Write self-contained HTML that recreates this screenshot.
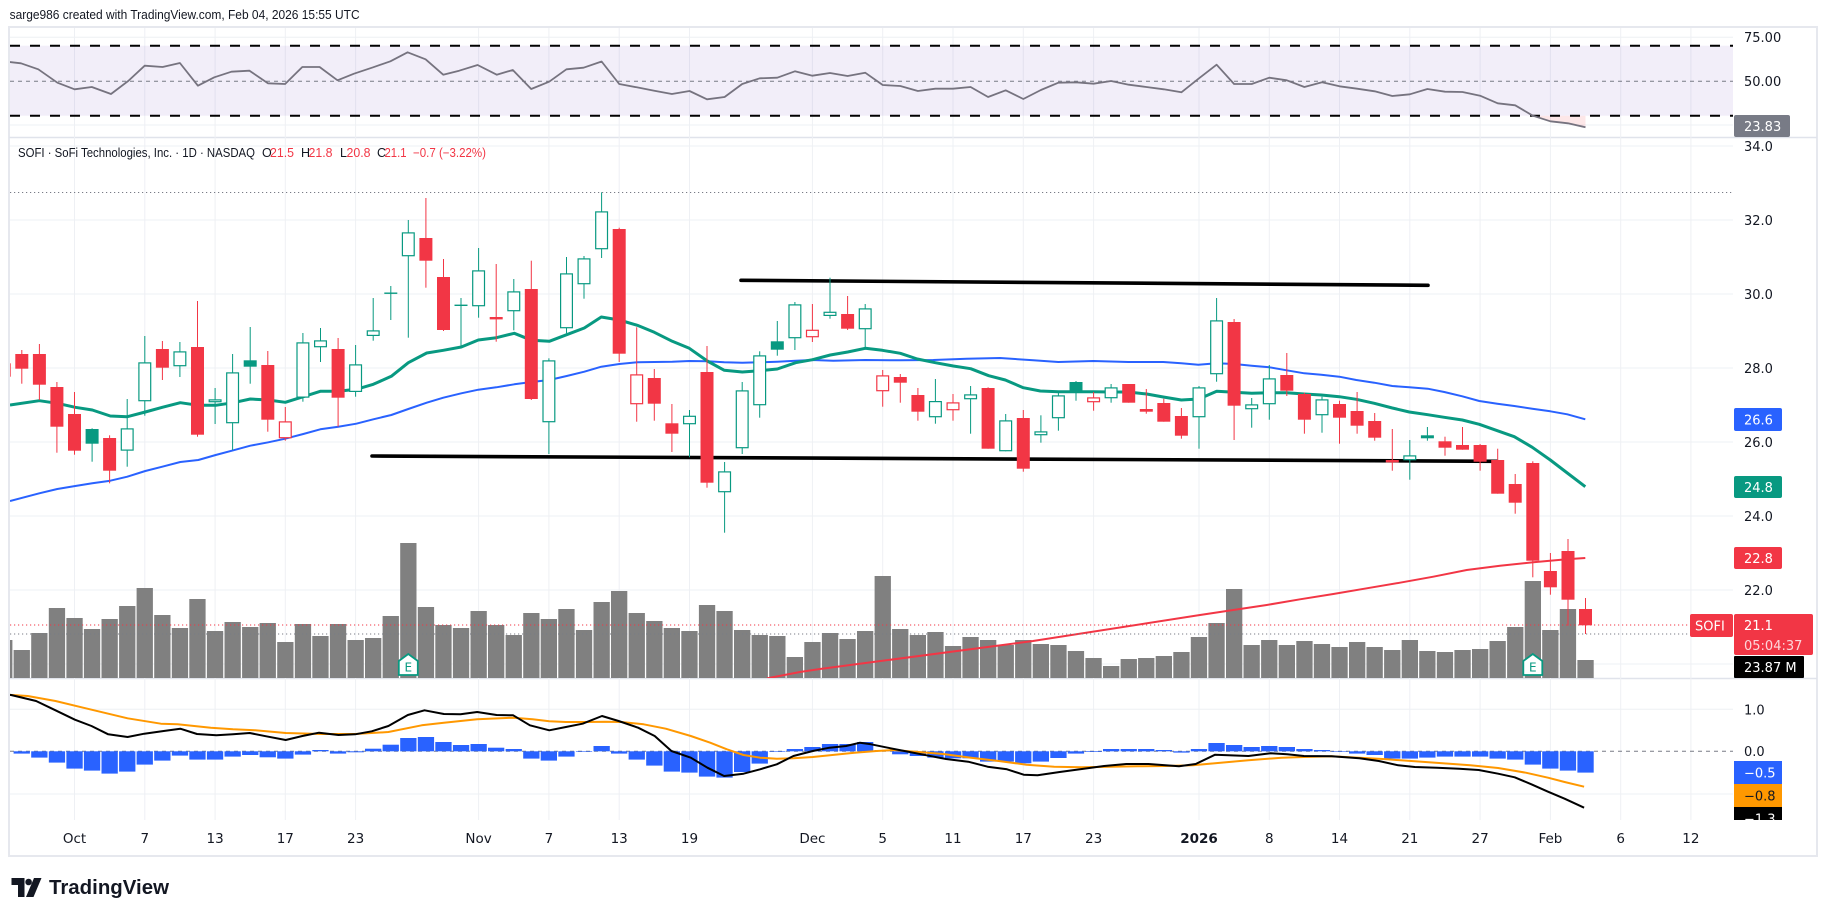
<!DOCTYPE html>
<html><head><meta charset="utf-8"><style>
html,body{margin:0;padding:0;background:#fff;width:1827px;height:916px;overflow:hidden}
svg{display:block}
.r{fill:#f23645}.g{fill:#089981}
.rh{fill:#fff;stroke:#f23645;stroke-width:1.2}
.gh{fill:#fff;stroke:#089981;stroke-width:1.2}
.v{fill:#808080}.hb{fill:#2962ff}
.ax{font-family:"DejaVu Sans",sans-serif;font-size:13px;fill:#131722}
.tx{font-family:"DejaVu Sans",sans-serif;font-size:13.5px;fill:#131722;text-anchor:middle}
.bl{font-family:"DejaVu Sans",sans-serif;font-size:13px;fill:#fff}
.gl{stroke:#eef0f4;stroke-width:1}
</style></head><body>
<svg width="1827" height="916" viewBox="0 0 1827 916" xmlns="http://www.w3.org/2000/svg">
<defs>
<clipPath id="cr"><rect x="10" y="28" width="1723" height="109"/></clipPath>
<clipPath id="cp"><rect x="10" y="138" width="1723" height="540"/></clipPath>
<clipPath id="cm"><rect x="10" y="679" width="1723" height="141"/></clipPath>
<clipPath id="cma"><rect x="1733" y="679" width="90" height="141"/></clipPath>
</defs>
<rect width="1827" height="916" fill="#fff"/>
<text x="9.6" y="19" font-family="Liberation Sans, sans-serif" font-size="12.5" fill="#131722" textLength="350" lengthAdjust="spacingAndGlyphs">sarge986 created with TradingView.com, Feb 04, 2026 15:55 UTC</text>

<!-- frame -->
<rect x="9" y="27" width="1808" height="829" fill="none" stroke="#e6e8ee" stroke-width="2"/>
<line x1="9" y1="137.5" x2="1817" y2="137.5" stroke="#e0e3eb" stroke-width="1.5"/>
<line x1="9" y1="678.5" x2="1817" y2="678.5" stroke="#e0e3eb" stroke-width="1.5"/>

<!-- vertical grid -->
<g class="gl">
<line x1="74.5" y1="28" x2="74.5" y2="820"/><line x1="144.8" y1="28" x2="144.8" y2="820"/><line x1="215.1" y1="28" x2="215.1" y2="820"/><line x1="285.3" y1="28" x2="285.3" y2="820"/><line x1="355.6" y1="28" x2="355.6" y2="820"/><line x1="478.6" y1="28" x2="478.6" y2="820"/><line x1="548.9" y1="28" x2="548.9" y2="820"/><line x1="619.2" y1="28" x2="619.2" y2="820"/><line x1="689.5" y1="28" x2="689.5" y2="820"/><line x1="812.4" y1="28" x2="812.4" y2="820"/><line x1="882.7" y1="28" x2="882.7" y2="820"/><line x1="953" y1="28" x2="953" y2="820"/><line x1="1023.3" y1="28" x2="1023.3" y2="820"/><line x1="1093.6" y1="28" x2="1093.6" y2="820"/><line x1="1199" y1="28" x2="1199" y2="820"/><line x1="1269.3" y1="28" x2="1269.3" y2="820"/><line x1="1339.5" y1="28" x2="1339.5" y2="820"/><line x1="1409.8" y1="28" x2="1409.8" y2="820"/><line x1="1480.1" y1="28" x2="1480.1" y2="820"/><line x1="1550.4" y1="28" x2="1550.4" y2="820"/><line x1="1620.7" y1="28" x2="1620.7" y2="820"/><line x1="1690.9" y1="28" x2="1690.9" y2="820"/>
<!-- horizontal grid -->
<line x1="10" y1="37.3" x2="1733" y2="37.3"/><line x1="10" y1="125" x2="1733" y2="125"/>
<line x1="10" y1="146" x2="1733" y2="146"/><line x1="10" y1="220" x2="1733" y2="220"/><line x1="10" y1="294" x2="1733" y2="294"/><line x1="10" y1="368" x2="1733" y2="368"/><line x1="10" y1="442" x2="1733" y2="442"/><line x1="10" y1="516" x2="1733" y2="516"/><line x1="10" y1="590" x2="1733" y2="590"/><line x1="10" y1="664" x2="1733" y2="664"/>
<line x1="10" y1="709.3" x2="1733" y2="709.3"/><line x1="10" y1="794" x2="1733" y2="794"/>
</g>

<!-- RSI pane -->
<g clip-path="url(#cr)">
<rect x="10" y="45.7" width="1723" height="70" fill="rgba(126,87,194,0.1)"/>
<polygon points="1532.8,115.7 1550.4,121.3 1568,123.3 1585.5,127.3 1585.5,115.7" fill="rgba(242,54,69,0.12)"/>
<line x1="10" y1="45.7" x2="1733" y2="45.7" stroke="#000" stroke-width="2" stroke-dasharray="10 10"/>
<line x1="10" y1="115.7" x2="1733" y2="115.7" stroke="#000" stroke-width="2" stroke-dasharray="10 10"/>
<line x1="10" y1="81.3" x2="1733" y2="81.3" stroke="#787b86" stroke-width="1" stroke-dasharray="4 4"/>
<polyline fill="none" stroke="#76737f" stroke-width="1.8" stroke-linejoin="round" points="9.6,62 21,63.3 38.3,69.3 57.4,82.7 74.6,89.3 91.8,87 111,94 128.2,81 144.7,65.7 162.6,67 179.9,63 197.9,85.7 214.3,77.3 231.5,71.7 249.5,70.7 267.9,83.3 285.1,84 302.3,67 319.6,67 337.5,80.3 354,73.7 373.1,67.3 390.4,61.3 407.6,52.3 425.6,59.3 443.2,74.7 459.2,70.7 477.6,65 496.7,74.7 512.8,70 531.2,89 549.2,81.7 566.4,69.3 583.6,67.7 601.6,61.5 619.2,84 636.7,87.3 654.3,90.7 671.9,94 689.5,91 707,99.3 724.6,97 742.2,84 759.7,78.3 777.3,77.7 794.9,71.3 812.4,75.7 830,73 847.6,76 865.2,72.7 882.7,85 900.3,86 917.9,91 935.4,88.7 953,88.7 970.6,87 988.1,97 1005.7,90.3 1023.3,99 1040.9,90 1058.4,82.7 1076,82.3 1093.6,83.7 1111.1,81 1128.7,84.7 1146.3,87 1163.8,89.3 1181.4,92.3 1199,78.3 1216.6,64.7 1234.1,84 1251.7,84 1269.3,77.7 1286.8,80.3 1304.4,87 1322,82.3 1339.5,86.3 1357.1,88.7 1374.7,91.3 1392.3,96 1409.8,94.3 1427.4,89 1445,91.7 1462.5,92 1480.1,95.7 1497.7,103.3 1515.2,105.3 1532.8,115.7 1550.4,121.3 1568,123.3 1585.5,127.3"/>
</g>

<!-- PRICE pane -->
<g clip-path="url(#cp)">
<!-- volume -->
<g class="v">
<rect x="-3.9" y="640" width="16.3" height="38"/><rect x="13.6" y="650" width="16.3" height="28"/><rect x="31.2" y="633" width="16.3" height="45"/><rect x="48.8" y="608" width="16.3" height="70"/><rect x="66.4" y="618" width="16.3" height="60"/><rect x="83.9" y="629" width="16.3" height="49"/><rect x="101.5" y="619" width="16.3" height="59"/><rect x="119.1" y="606" width="16.3" height="72"/><rect x="136.6" y="588" width="16.3" height="90"/><rect x="154.2" y="615" width="16.3" height="63"/><rect x="171.8" y="628" width="16.3" height="50"/><rect x="189.3" y="599" width="16.3" height="79"/><rect x="206.9" y="631" width="16.3" height="47"/><rect x="224.5" y="622" width="16.3" height="56"/><rect x="242.1" y="627" width="16.3" height="51"/><rect x="259.6" y="623" width="16.3" height="55"/><rect x="277.2" y="642" width="16.3" height="36"/><rect x="294.8" y="624" width="16.3" height="54"/><rect x="312.3" y="636" width="16.3" height="42"/><rect x="329.9" y="624" width="16.3" height="54"/><rect x="347.5" y="640" width="16.3" height="38"/><rect x="365" y="638" width="16.3" height="40"/><rect x="382.6" y="616" width="16.3" height="62"/><rect x="400.2" y="543" width="16.3" height="135"/><rect x="417.8" y="607" width="16.3" height="71"/><rect x="435.3" y="625" width="16.3" height="53"/><rect x="452.9" y="628" width="16.3" height="50"/><rect x="470.5" y="611" width="16.3" height="67"/><rect x="488" y="625" width="16.3" height="53"/><rect x="505.6" y="635" width="16.3" height="43"/><rect x="523.2" y="613" width="16.3" height="65"/><rect x="540.7" y="619" width="16.3" height="59"/><rect x="558.3" y="609" width="16.3" height="69"/><rect x="575.9" y="630" width="16.3" height="48"/><rect x="593.5" y="602" width="16.3" height="76"/><rect x="611" y="591" width="16.3" height="87"/><rect x="628.6" y="613" width="16.3" height="65"/><rect x="646.2" y="621" width="16.3" height="57"/><rect x="663.7" y="628" width="16.3" height="50"/><rect x="681.3" y="631" width="16.3" height="47"/><rect x="698.9" y="605" width="16.3" height="73"/><rect x="716.4" y="611" width="16.3" height="67"/><rect x="734" y="630" width="16.3" height="48"/><rect x="751.6" y="635" width="16.3" height="43"/><rect x="769.2" y="636" width="16.3" height="42"/><rect x="786.7" y="657" width="16.3" height="21"/><rect x="804.3" y="642" width="16.3" height="36"/><rect x="821.9" y="633" width="16.3" height="45"/><rect x="839.4" y="639" width="16.3" height="39"/><rect x="857" y="631" width="16.3" height="47"/><rect x="874.6" y="576" width="16.3" height="102"/><rect x="892.1" y="629" width="16.3" height="49"/><rect x="909.7" y="635" width="16.3" height="43"/><rect x="927.3" y="632" width="16.3" height="46"/><rect x="944.9" y="646" width="16.3" height="32"/><rect x="962.4" y="637" width="16.3" height="41"/><rect x="980" y="640" width="16.3" height="38"/><rect x="997.6" y="645" width="16.3" height="33"/><rect x="1015.1" y="640" width="16.3" height="38"/><rect x="1032.7" y="644" width="16.3" height="34"/><rect x="1050.3" y="645" width="16.3" height="33"/><rect x="1067.8" y="651" width="16.3" height="27"/><rect x="1085.4" y="658" width="16.3" height="20"/><rect x="1103" y="666" width="16.3" height="12"/><rect x="1120.6" y="659" width="16.3" height="19"/><rect x="1138.1" y="658" width="16.3" height="20"/><rect x="1155.7" y="656" width="16.3" height="22"/><rect x="1173.3" y="652" width="16.3" height="26"/><rect x="1190.8" y="637" width="16.3" height="41"/><rect x="1208.4" y="623" width="16.3" height="55"/><rect x="1226" y="589" width="16.3" height="89"/><rect x="1243.5" y="645" width="16.3" height="33"/><rect x="1261.1" y="640" width="16.3" height="38"/><rect x="1278.7" y="645" width="16.3" height="33"/><rect x="1296.3" y="641" width="16.3" height="37"/><rect x="1313.8" y="644" width="16.3" height="34"/><rect x="1331.4" y="647" width="16.3" height="31"/><rect x="1349" y="642" width="16.3" height="36"/><rect x="1366.5" y="647" width="16.3" height="31"/><rect x="1384.1" y="650" width="16.3" height="28"/><rect x="1401.7" y="640" width="16.3" height="38"/><rect x="1419.2" y="651" width="16.3" height="27"/><rect x="1436.8" y="652" width="16.3" height="26"/><rect x="1454.4" y="650" width="16.3" height="28"/><rect x="1472" y="649" width="16.3" height="29"/><rect x="1489.5" y="641" width="16.3" height="37"/><rect x="1507.1" y="627" width="16.3" height="51"/><rect x="1524.7" y="581" width="16.3" height="97"/><rect x="1542.2" y="630" width="16.3" height="48"/><rect x="1559.8" y="609" width="16.3" height="69"/><rect x="1577.4" y="660" width="16.3" height="18"/>
</g>

<!-- MAs -->
<polyline fill="none" stroke="#f23645" stroke-width="2" points="767,678.3 800,672 820,669 1033,641 1200,615 1233.3,610 1266.7,605 1300,599.3 1333.3,594 1366.7,588.3 1400,582.7 1433.3,576.7 1466.7,570 1500,565.7 1533.3,562.3 1566.7,559.3 1585.3,558"/>
<polyline fill="none" stroke="#2962ff" stroke-width="2" stroke-linejoin="round" points="10,501 39.3,493.3 57.3,489 75.3,486 92.3,483.3 110.3,480.7 127.3,476.7 145.3,471 162.3,466.7 180.3,462 198.3,460 215.7,455 233.3,450.3 250.3,445.7 268.3,442.3 285.3,438.7 303.3,434 320.3,429.3 338.3,426.7 356.3,423.7 373.3,419.3 391.3,415 408.3,409 426.7,402.7 443.3,397.7 461.3,393.3 478.3,389.7 496.3,387.3 514.3,384.3 531.7,382 549.3,380 566.7,376 584.3,371.7 601.3,366.7 619.3,364 637.3,362.3 654.3,362 672.3,361.7 689.3,361 707.3,361.3 724.3,362.3 742.3,362.7 759.3,362.3 777.3,361.7 795.7,360.7 812.3,360 833.3,360.7 865.3,360 900,360.3 933.3,360 966.7,358.7 1000,358 1033.3,360.3 1058.3,362 1093.3,361 1128.3,362 1163.3,362 1181.3,363.3 1198.3,364.7 1216.7,363.3 1234.3,364 1251.7,365.7 1269.3,367.3 1286.7,370.3 1304.3,373.3 1321.3,374.7 1339.3,376.7 1356.3,380 1374.3,382.7 1392.3,386 1409.3,387.3 1427.7,388.7 1444.3,392 1462.3,396.3 1479.3,401 1497.3,403.7 1514.3,406 1532.3,408.7 1550.3,411.3 1567.3,414.3 1585.3,419.3"/>
<polyline fill="none" stroke="#089981" stroke-width="3" stroke-linejoin="round" points="10,405 39.3,400.7 57.3,403.3 75.3,407.3 92.3,410 110.3,416 127.3,416.7 145.3,412 162.3,407.3 180.3,402.7 198.3,405.3 215.7,405.3 233.3,402.7 250.3,399 268.3,400 285.3,402.3 303.3,396.7 320.3,391.3 338.3,391.3 356.3,389.3 373.3,384.3 391.3,376.3 408.3,362.7 426.7,353 443.3,350.3 461.3,347 478.3,340 496.3,337.7 514.3,333.3 531.7,340.3 549.3,341.3 566.7,334.7 584.3,328 601.3,317 619.3,320 637.3,325.3 654.3,332.3 672.3,341.3 689.3,348.3 707.3,361 724.3,370.3 742.3,372 759.3,370.7 777.3,369 795.7,362.7 812.5,359.7 830.3,355 847.7,352 865.3,348.3 882.3,350.3 900.3,353.3 917.3,359 935.3,362.7 953.3,366 970.7,368.7 988.7,375.7 1005.3,380 1023.3,387.7 1040.3,391 1058.3,391.7 1076.3,391.7 1093.3,391.7 1111.3,392 1128.3,392 1146.7,394 1163.3,397 1181.3,400 1198.8,399 1216.7,391.3 1234.3,392.3 1251.7,393.3 1269.3,392.7 1286.7,392.7 1304.3,394 1321.3,395 1339.3,396.7 1356.3,399.3 1374.3,403.3 1392.3,408 1409.3,412 1427.7,414.7 1444.3,417.3 1462.3,420 1479.3,424.3 1497.3,430.7 1514.3,436.7 1532.3,447.3 1550.3,460 1567.3,473 1585.3,486.7"/>

<!-- trend lines -->
<line x1="741" y1="280.3" x2="1428" y2="285.3" stroke="#000" stroke-width="3.6" stroke-linecap="round"/>
<line x1="372" y1="456" x2="1497" y2="461.3" stroke="#000" stroke-width="3.6" stroke-linecap="round"/>

<!-- candles -->
<rect class="r" x="3.7" y="360" width="1" height="20"/><rect class="r" x="-2.3" y="363.3" width="13" height="13.4"/>
<rect class="r" x="21.3" y="350" width="1" height="33.7"/><rect class="r" x="15.3" y="354" width="13" height="14.7"/>
<rect class="r" x="38.9" y="344" width="1" height="56"/><rect class="r" x="32.9" y="354" width="13" height="30.7"/>
<rect class="r" x="56.4" y="382" width="1" height="70.7"/><rect class="r" x="50.4" y="387" width="13" height="39.7"/>
<rect class="r" x="74" y="392" width="1" height="62.7"/><rect class="r" x="68" y="414" width="13" height="36.7"/>
<rect class="g" x="91.6" y="428.3" width="1" height="33.4"/><rect class="g" x="85.6" y="429" width="13" height="14.7"/>
<rect class="r" x="109.1" y="435.3" width="1" height="48"/><rect class="r" x="103.1" y="438" width="13" height="32.7"/>
<rect class="g" x="126.7" y="399" width="1" height="67.7"/><rect class="gh" x="121.3" y="428.9" width="11.8" height="21.2"/>
<rect class="g" x="144.3" y="336" width="1" height="79.7"/><rect class="gh" x="138.9" y="362.9" width="11.8" height="37.8"/>
<rect class="r" x="161.9" y="341" width="1" height="39"/><rect class="r" x="155.9" y="349" width="13" height="18.7"/>
<rect class="g" x="179.4" y="342" width="1" height="35"/><rect class="gh" x="174" y="351.9" width="11.8" height="13.8"/>
<rect class="r" x="197" y="301" width="1" height="135.7"/><rect class="r" x="191" y="347" width="13" height="87.7"/>
<rect class="g" x="214.6" y="388" width="1" height="36"/><rect class="gh" x="209.2" y="399.9" width="11.8" height="1.8"/>
<rect class="g" x="232.1" y="354" width="1" height="96"/><rect class="gh" x="226.7" y="372.9" width="11.8" height="49.8"/>
<rect class="g" x="249.7" y="327" width="1" height="56.7"/><rect class="g" x="243.7" y="360.3" width="13" height="6.4"/>
<rect class="r" x="267.3" y="351" width="1" height="80.7"/><rect class="r" x="261.3" y="365" width="13" height="54.7"/>
<rect class="r" x="284.8" y="407" width="1" height="33.7"/><rect class="rh" x="279.4" y="421.9" width="11.8" height="15.8"/>
<rect class="g" x="302.4" y="333" width="1" height="68.7"/><rect class="gh" x="297" y="342.9" width="11.8" height="54.2"/>
<rect class="g" x="320" y="328" width="1" height="34"/><rect class="gh" x="314.6" y="340.9" width="11.8" height="5.8"/>
<rect class="r" x="337.6" y="338" width="1" height="88.7"/><rect class="r" x="331.6" y="349" width="13" height="48.7"/>
<rect class="g" x="355.1" y="345" width="1" height="51.7"/><rect class="gh" x="349.7" y="364.9" width="11.8" height="26.5"/>
<rect class="g" x="372.7" y="298" width="1" height="42.7"/><rect class="gh" x="367.3" y="330.9" width="11.8" height="4.5"/>
<rect class="g" x="390.3" y="286" width="1" height="34"/><rect class="g" x="384.3" y="292.5" width="13" height="1.4"/>
<rect class="g" x="407.8" y="220" width="1" height="117.7"/><rect class="gh" x="402.4" y="232.9" width="11.8" height="22.8"/>
<rect class="r" x="425.4" y="198" width="1" height="89.7"/><rect class="r" x="419.4" y="238" width="13" height="22.7"/>
<rect class="r" x="443" y="259" width="1" height="72"/><rect class="r" x="437" y="277" width="13" height="53"/>
<rect class="g" x="460.5" y="298" width="1" height="48.7"/><rect class="g" x="454.5" y="304.6" width="13" height="1.4"/>
<rect class="g" x="478.1" y="248" width="1" height="69.7"/><rect class="gh" x="472.7" y="270.9" width="11.8" height="34.8"/>
<rect class="r" x="495.7" y="264" width="1" height="77.7"/><rect class="rh" x="490.3" y="317.6" width="11.8" height="1.2"/>
<rect class="g" x="513.3" y="279" width="1" height="51.3"/><rect class="gh" x="507.9" y="291.9" width="11.8" height="18.8"/>
<rect class="r" x="530.8" y="260.7" width="1" height="139.3"/><rect class="r" x="524.8" y="289" width="13" height="110"/>
<rect class="g" x="548.4" y="358.3" width="1" height="95.7"/><rect class="gh" x="543" y="360.9" width="11.8" height="60.8"/>
<rect class="g" x="566" y="257" width="1" height="76.3"/><rect class="gh" x="560.6" y="273.9" width="11.8" height="53.8"/>
<rect class="g" x="583.5" y="256" width="1" height="42.7"/><rect class="gh" x="578.1" y="258.9" width="11.8" height="24.8"/>
<rect class="g" x="601.1" y="192.3" width="1" height="65.7"/><rect class="gh" x="595.7" y="211.9" width="11.8" height="36.8"/>
<rect class="r" x="618.7" y="227.7" width="1" height="134.3"/><rect class="r" x="612.7" y="229" width="13" height="124.7"/>
<rect class="r" x="636.2" y="327.3" width="1" height="94.4"/><rect class="rh" x="630.8" y="374.9" width="11.8" height="28.8"/>
<rect class="r" x="653.8" y="369" width="1" height="51.7"/><rect class="r" x="647.8" y="378" width="13" height="25.7"/>
<rect class="r" x="671.4" y="404" width="1" height="48"/><rect class="r" x="665.4" y="423.3" width="13" height="10.4"/>
<rect class="g" x="689" y="410" width="1" height="47.3"/><rect class="gh" x="683.6" y="416.3" width="11.8" height="7.4"/>
<rect class="r" x="706.5" y="346" width="1" height="141.7"/><rect class="r" x="700.5" y="372" width="13" height="110.7"/>
<rect class="g" x="724.1" y="462" width="1" height="70.7"/><rect class="gh" x="718.7" y="471.9" width="11.8" height="19.8"/>
<rect class="g" x="741.7" y="382" width="1" height="72"/><rect class="gh" x="736.3" y="390.9" width="11.8" height="56.8"/>
<rect class="g" x="759.2" y="351.3" width="1" height="66.4"/><rect class="gh" x="753.8" y="355.9" width="11.8" height="48.8"/>
<rect class="g" x="776.8" y="321" width="1" height="34.7"/><rect class="g" x="770.8" y="341.3" width="13" height="8.4"/>
<rect class="g" x="794.4" y="302" width="1" height="48"/><rect class="gh" x="789" y="304.9" width="11.8" height="32.8"/>
<rect class="r" x="811.9" y="304" width="1" height="38"/><rect class="rh" x="806.5" y="330.3" width="11.8" height="6.4"/>
<rect class="g" x="829.5" y="277.7" width="1" height="41"/><rect class="gh" x="824.1" y="312.3" width="11.8" height="3.1"/>
<rect class="r" x="847.1" y="296" width="1" height="34"/><rect class="r" x="841.1" y="314" width="13" height="14.7"/>
<rect class="g" x="864.7" y="304" width="1" height="43.3"/><rect class="gh" x="859.3" y="308.9" width="11.8" height="19.8"/>
<rect class="r" x="882.2" y="370" width="1" height="36.7"/><rect class="rh" x="876.8" y="375.9" width="11.8" height="14.8"/>
<rect class="r" x="899.8" y="374" width="1" height="28.7"/><rect class="r" x="893.8" y="377" width="13" height="5.7"/>
<rect class="r" x="917.4" y="388" width="1" height="32.7"/><rect class="r" x="911.4" y="395" width="13" height="16.7"/>
<rect class="g" x="934.9" y="379" width="1" height="44.7"/><rect class="gh" x="929.5" y="401.6" width="11.8" height="15.1"/>
<rect class="r" x="952.5" y="394" width="1" height="26.7"/><rect class="rh" x="947.1" y="402.9" width="11.8" height="6.8"/>
<rect class="g" x="970.1" y="386" width="1" height="47.7"/><rect class="gh" x="964.7" y="394.9" width="11.8" height="3.8"/>
<rect class="r" x="987.6" y="387.3" width="1" height="61.4"/><rect class="r" x="981.6" y="388" width="13" height="60.7"/>
<rect class="g" x="1005.2" y="414" width="1" height="37.3"/><rect class="gh" x="999.8" y="420.9" width="11.8" height="29.8"/>
<rect class="r" x="1022.8" y="410" width="1" height="61.7"/><rect class="r" x="1016.8" y="418" width="13" height="50.7"/>
<rect class="g" x="1040.4" y="415.3" width="1" height="27.4"/><rect class="gh" x="1035" y="431.9" width="11.8" height="2.8"/>
<rect class="g" x="1057.9" y="392.7" width="1" height="38"/><rect class="gh" x="1052.5" y="395.9" width="11.8" height="21.8"/>
<rect class="g" x="1075.5" y="381" width="1" height="19.7"/><rect class="g" x="1069.5" y="382" width="13" height="9.7"/>
<rect class="r" x="1093.1" y="392" width="1" height="18.7"/><rect class="rh" x="1087.7" y="397.9" width="11.8" height="3.8"/>
<rect class="g" x="1110.6" y="384" width="1" height="18.7"/><rect class="gh" x="1105.2" y="387.9" width="11.8" height="9.8"/>
<rect class="r" x="1128.2" y="384" width="1" height="18.7"/><rect class="r" x="1122.2" y="384" width="13" height="18.7"/>
<rect class="r" x="1145.8" y="389" width="1" height="24.7"/><rect class="r" x="1139.8" y="409" width="13" height="2.7"/>
<rect class="r" x="1163.3" y="398.7" width="1" height="23"/><rect class="r" x="1157.3" y="403" width="13" height="18.7"/>
<rect class="r" x="1180.9" y="408" width="1" height="30.7"/><rect class="r" x="1174.9" y="416" width="13" height="19.7"/>
<rect class="g" x="1198.5" y="386" width="1" height="62.7"/><rect class="gh" x="1193.1" y="387.9" width="11.8" height="28.8"/>
<rect class="g" x="1216.1" y="298" width="1" height="83.7"/><rect class="gh" x="1210.7" y="320.9" width="11.8" height="52.8"/>
<rect class="r" x="1233.6" y="319" width="1" height="121"/><rect class="r" x="1227.6" y="322" width="13" height="83.7"/>
<rect class="g" x="1251.2" y="398" width="1" height="29.7"/><rect class="gh" x="1245.8" y="404.9" width="11.8" height="3.8"/>
<rect class="g" x="1268.8" y="365" width="1" height="54.7"/><rect class="gh" x="1263.4" y="378.9" width="11.8" height="24.8"/>
<rect class="r" x="1286.3" y="353" width="1" height="43"/><rect class="r" x="1280.3" y="375" width="13" height="15.7"/>
<rect class="r" x="1303.9" y="392.7" width="1" height="41"/><rect class="r" x="1297.9" y="394" width="13" height="25.7"/>
<rect class="g" x="1321.5" y="396.7" width="1" height="36"/><rect class="gh" x="1316.1" y="399.9" width="11.8" height="14.8"/>
<rect class="r" x="1339" y="400.7" width="1" height="43"/><rect class="r" x="1333" y="404" width="13" height="13.7"/>
<rect class="r" x="1356.6" y="392" width="1" height="41.7"/><rect class="r" x="1350.6" y="411" width="13" height="14.7"/>
<rect class="r" x="1374.2" y="413" width="1" height="27.7"/><rect class="r" x="1368.2" y="421" width="13" height="16.7"/>
<rect class="r" x="1391.8" y="429" width="1" height="41.7"/><rect class="rh" x="1386.4" y="460.6" width="11.8" height="1.2"/>
<rect class="g" x="1409.3" y="440" width="1" height="39.7"/><rect class="gh" x="1403.9" y="455.9" width="11.8" height="3.8"/>
<rect class="g" x="1426.9" y="427" width="1" height="13.7"/><rect class="g" x="1420.9" y="435.3" width="13" height="3"/>
<rect class="r" x="1444.5" y="436.7" width="1" height="19"/><rect class="r" x="1438.5" y="441.3" width="13" height="6.4"/>
<rect class="r" x="1462" y="427" width="1" height="22.7"/><rect class="r" x="1456" y="445" width="13" height="4.7"/>
<rect class="r" x="1479.6" y="444" width="1" height="26.7"/><rect class="r" x="1473.6" y="445" width="13" height="16.7"/>
<rect class="r" x="1497.2" y="448.7" width="1" height="45"/><rect class="r" x="1491.2" y="460" width="13" height="33.7"/>
<rect class="r" x="1514.7" y="474" width="1" height="39.7"/><rect class="r" x="1508.7" y="484" width="13" height="18.7"/>
<rect class="r" x="1532.3" y="461.3" width="1" height="116"/><rect class="r" x="1526.3" y="463" width="13" height="97.7"/>
<rect class="r" x="1549.9" y="553" width="1" height="41.7"/><rect class="r" x="1543.9" y="571" width="13" height="16.3"/>
<rect class="r" x="1567.5" y="539" width="1" height="86.7"/><rect class="r" x="1561.5" y="551" width="13" height="48.7"/>
<rect class="r" x="1585" y="598" width="1" height="36"/><rect class="r" x="1579" y="609" width="13" height="16.3"/>

<!-- dotted lines -->
<line x1="10" y1="192.5" x2="1733" y2="192.5" stroke="#787b86" stroke-width="1" stroke-dasharray="1.2 2.8"/>
<line x1="10" y1="625" x2="1690" y2="625" stroke="#f23645" stroke-width="1" stroke-dasharray="1.2 2.8"/>
<line x1="10" y1="634" x2="1690" y2="634" stroke="#787b86" stroke-width="1" stroke-dasharray="1.2 2.8"/>

<!-- earnings markers -->
<polygon points="398.8,661 408.3,654 417.8,661 417.8,675 398.8,675" fill="#fff" stroke="#089981" stroke-width="1.8"/>
<text x="408.3" y="671.5" text-anchor="middle" font-family="DejaVu Sans, sans-serif" font-size="12" fill="#089981">E</text>
<polygon points="1523.3,661 1532.8,654 1542.3,661 1542.3,675 1523.3,675" fill="#fff" stroke="#089981" stroke-width="1.8"/>
<text x="1532.8" y="671.5" text-anchor="middle" font-family="DejaVu Sans, sans-serif" font-size="12" fill="#089981">E</text>
</g>

<!-- legend -->
<g font-family="Liberation Sans, sans-serif" font-size="12.5">
<text x="18" y="157" fill="#131722" textLength="237" lengthAdjust="spacingAndGlyphs">SOFI · SoFi Technologies, Inc. · 1D · NASDAQ</text>
<text x="262" y="157" fill="#131722">O</text><text x="270" y="157" fill="#f23645" textLength="24" lengthAdjust="spacingAndGlyphs">21.5</text>
<text x="301" y="157" fill="#131722">H</text><text x="308.5" y="157" fill="#f23645" textLength="24" lengthAdjust="spacingAndGlyphs">21.8</text>
<text x="340" y="157" fill="#131722">L</text><text x="346.5" y="157" fill="#f23645" textLength="24" lengthAdjust="spacingAndGlyphs">20.8</text>
<text x="377" y="157" fill="#131722">C</text><text x="384.5" y="157" fill="#f23645" textLength="22" lengthAdjust="spacingAndGlyphs">21.1</text>
<text x="413" y="157" fill="#f23645" textLength="73" lengthAdjust="spacingAndGlyphs">−0.7 (−3.22%)</text>
</g>

<!-- MACD pane -->
<g clip-path="url(#cm)">
<line x1="10" y1="751.3" x2="1733" y2="751.3" stroke="#787b86" stroke-width="1" stroke-dasharray="4 4"/>
<g class="hb">
<rect x="13.6" y="751.3" width="16.3" height="2.3"/><rect x="31.2" y="751.3" width="16.3" height="6.3"/><rect x="48.8" y="751.3" width="16.3" height="11.3"/><rect x="66.4" y="751.3" width="16.3" height="17.3"/><rect x="83.9" y="751.3" width="16.3" height="19.3"/><rect x="101.5" y="751.3" width="16.3" height="22.3"/><rect x="119.1" y="751.3" width="16.3" height="20.3"/><rect x="136.6" y="751.3" width="16.3" height="13.3"/><rect x="154.2" y="751.3" width="16.3" height="9.3"/><rect x="171.8" y="751.3" width="16.3" height="4.3"/><rect x="189.3" y="751.3" width="16.3" height="8.3"/><rect x="206.9" y="751.3" width="16.3" height="8.3"/><rect x="224.5" y="751.3" width="16.3" height="5.3"/><rect x="242.1" y="751.3" width="16.3" height="3.7"/><rect x="259.6" y="751.3" width="16.3" height="6"/><rect x="277.2" y="751.3" width="16.3" height="7.3"/><rect x="294.8" y="751.3" width="16.3" height="3.3"/><rect x="312.3" y="750" width="16.3" height="1.3"/><rect x="329.9" y="751.3" width="16.3" height="2.3"/><rect x="347.5" y="751.3" width="16.3" height="1"/><rect x="365" y="748.7" width="16.3" height="2.6"/><rect x="382.6" y="744.7" width="16.3" height="6.6"/><rect x="400.2" y="738" width="16.3" height="13.3"/><rect x="417.8" y="737" width="16.3" height="14.3"/><rect x="435.3" y="742" width="16.3" height="9.3"/><rect x="452.9" y="745" width="16.3" height="6.3"/><rect x="470.5" y="744" width="16.3" height="7.3"/><rect x="488" y="747.7" width="16.3" height="3.6"/><rect x="505.6" y="749" width="16.3" height="2.3"/><rect x="523.2" y="751.3" width="16.3" height="7.3"/><rect x="540.7" y="751.3" width="16.3" height="9.3"/><rect x="558.3" y="751.3" width="16.3" height="5.3"/><rect x="575.9" y="751.3" width="16.3" height="0.6"/><rect x="593.5" y="746" width="16.3" height="5.3"/><rect x="611" y="751.3" width="16.3" height="2.3"/><rect x="628.6" y="751.3" width="16.3" height="8.3"/><rect x="646.2" y="751.3" width="16.3" height="14.3"/><rect x="663.7" y="751.3" width="16.3" height="20.3"/><rect x="681.3" y="751.3" width="16.3" height="21.3"/><rect x="698.9" y="751.3" width="16.3" height="25.3"/><rect x="716.4" y="751.3" width="16.3" height="26.3"/><rect x="734" y="751.3" width="16.3" height="20.7"/><rect x="751.6" y="751.3" width="16.3" height="12.3"/><rect x="769.2" y="751.3" width="16.3" height="0.6"/><rect x="786.7" y="749" width="16.3" height="2.3"/><rect x="804.3" y="747" width="16.3" height="4.3"/><rect x="821.9" y="744" width="16.3" height="7.3"/><rect x="839.4" y="744" width="16.3" height="7.3"/><rect x="857" y="742" width="16.3" height="9.3"/><rect x="874.6" y="750" width="16.3" height="1.3"/><rect x="892.1" y="751.3" width="16.3" height="3"/><rect x="909.7" y="751.3" width="16.3" height="4.7"/><rect x="927.3" y="751.3" width="16.3" height="6.3"/><rect x="944.9" y="751.3" width="16.3" height="7"/><rect x="962.4" y="751.3" width="16.3" height="7"/><rect x="980" y="751.3" width="16.3" height="10.3"/><rect x="997.6" y="751.3" width="16.3" height="10.3"/><rect x="1015.1" y="751.3" width="16.3" height="12"/><rect x="1032.7" y="751.3" width="16.3" height="10.3"/><rect x="1050.3" y="751.3" width="16.3" height="6.7"/><rect x="1067.8" y="751.3" width="16.3" height="2.3"/><rect x="1085.4" y="751.3" width="16.3" height="0.7"/><rect x="1103" y="749" width="16.3" height="2.3"/><rect x="1120.6" y="749" width="16.3" height="2.3"/><rect x="1138.1" y="749" width="16.3" height="2.3"/><rect x="1155.7" y="750" width="16.3" height="1.3"/><rect x="1173.3" y="751.3" width="16.3" height="1.3"/><rect x="1190.8" y="749" width="16.3" height="2.3"/><rect x="1208.4" y="743" width="16.3" height="8.3"/><rect x="1226" y="745" width="16.3" height="6.3"/><rect x="1243.5" y="747" width="16.3" height="4.3"/><rect x="1261.1" y="746" width="16.3" height="5.3"/><rect x="1278.7" y="747" width="16.3" height="4.3"/><rect x="1296.3" y="749" width="16.3" height="2.3"/><rect x="1313.8" y="750" width="16.3" height="1.3"/><rect x="1331.4" y="751.3" width="16.3" height="0.6"/><rect x="1349" y="751.3" width="16.3" height="2.3"/><rect x="1366.5" y="751.3" width="16.3" height="3.7"/><rect x="1384.1" y="751.3" width="16.3" height="7.3"/><rect x="1401.7" y="751.3" width="16.3" height="7.3"/><rect x="1419.2" y="751.3" width="16.3" height="6.3"/><rect x="1436.8" y="751.3" width="16.3" height="5.3"/><rect x="1454.4" y="751.3" width="16.3" height="5.3"/><rect x="1472" y="751.3" width="16.3" height="5.3"/><rect x="1489.5" y="751.3" width="16.3" height="7.3"/><rect x="1507.1" y="751.3" width="16.3" height="8.3"/><rect x="1524.7" y="751.3" width="16.3" height="13.3"/><rect x="1542.2" y="751.3" width="16.3" height="17.3"/><rect x="1559.8" y="751.3" width="16.3" height="19.3"/><rect x="1577.4" y="751.3" width="16.3" height="21.3"/>
</g>
<polyline fill="none" stroke="#ff9800" stroke-width="2" stroke-linejoin="round" points="0,694.3 27.7,696 55.5,701 83.2,707.7 127.6,718.3 160.9,723.7 177.6,724.3 210.8,727.7 233,729.3 255.2,730.3 285.7,733 321.8,734 355.1,734 388.4,732 421.7,725.3 443.9,722.7 477.2,719.3 513.2,717.7 532.6,719.3 549.3,721.3 565.9,722 588.1,722 604.8,721.7 621.4,722 643.6,724.3 665.8,728.7 690.8,736 710.2,742.7 726.9,749.3 743.5,755 760.1,757.7 776.8,758.7 793.4,758.3 812.8,757 832.3,755 854.5,752.7 876.6,751 893.3,750 915.5,751.7 943.2,754 971,757.7 998.7,761 1026.5,764.7 1054.2,766.7 1081.9,767.3 1109.7,766.7 1137.4,766.3 1165.2,766 1192.9,765.3 1220.6,762.7 1248.4,760.3 1281.7,757.7 1303.9,757 1331.6,756.3 1359.4,757.7 1387.1,759.3 1414.8,761.3 1442.6,763.3 1470.3,765.3 1498.1,768 1525.8,772.7 1548,777.7 1564.6,782 1584.1,786.7"/>
<polyline fill="none" stroke="#000" stroke-width="2" stroke-linejoin="round" points="0,694.3 11.1,695 36.1,701 55.5,710.3 74.9,719.7 91.5,726 108.2,734.3 127.6,737 144.3,733.7 163.7,731 180.3,728.7 197,734 216.4,735.3 233,734.3 249.7,733 266.3,736.3 285.7,740 302.4,736 319,732.7 338.5,735 355.1,734.3 371.7,731.3 388.4,726 407.8,715 424.5,710.3 443.9,714 460.5,714.3 477.2,712 496.6,715 513.2,715.3 529.9,725.3 549.3,730.3 565.9,727 582.6,723.7 602,716 618.6,721 638.1,727.7 654.7,736 671.4,751 690.8,757.7 707.4,767.7 724.1,776 743.5,773.7 760.1,769.3 776.8,764.3 793.4,756 812.8,751 829.5,747.7 846.1,746 860,742.7 871.1,744.3 887.7,747.7 904.4,751 926.6,755.3 946,759 968.2,761.7 987.6,766.7 1007,769.3 1023.7,774.7 1037.6,775.3 1059.7,772 1081.9,769 1104.1,766 1126.3,764 1148.5,764 1179,766.3 1195.7,764 1215.1,754.7 1248.4,756 1270.6,753.3 1287.2,754.3 1303.9,756 1331.6,756.3 1359.4,758.3 1378.8,761 1398.2,765.3 1414.8,767 1437,767.7 1459.2,768.7 1478.7,770 1498.1,773.7 1514.7,777.3 1531.4,784.3 1548,791.7 1564.6,798.7 1584.1,807.7"/>
</g>

<!-- right axis labels -->
<g class="ax">
<text x="1744" y="42">75.00</text>
<text x="1744" y="86">50.00</text>
<text x="1744" y="151">34.0</text>
<text x="1744" y="225">32.0</text>
<text x="1744" y="299">30.0</text>
<text x="1744" y="373">28.0</text>
<text x="1744" y="447">26.0</text>
<text x="1744" y="521">24.0</text>
<text x="1744" y="595">22.0</text>
<text x="1744" y="714.5">1.0</text>
<text x="1744" y="756">0.0</text>
</g>
<rect x="1734" y="115" width="56" height="22" rx="2" fill="#787b86"/><text class="bl" x="1744" y="131">23.83</text>
<rect x="1734" y="408" width="48" height="23" rx="2" fill="#2962ff"/><text class="bl" x="1744" y="424.5">26.6</text>
<rect x="1734" y="476" width="48" height="22" rx="2" fill="#089981"/><text class="bl" x="1744" y="492">24.8</text>
<rect x="1734" y="547" width="48" height="22" rx="2" fill="#f23645"/><text class="bl" x="1744" y="563">22.8</text>
<rect x="1690" y="614" width="43" height="23" rx="2" fill="#f23645"/><text class="bl" x="1695" y="630.5">SOFI</text>
<rect x="1734" y="614" width="79" height="41" rx="2" fill="#f23645"/><text class="bl" x="1744" y="630">21.1</text><text class="bl" x="1744" y="650" fill-opacity="0.8">05:04:37</text>
<rect x="1734" y="656" width="70" height="22" rx="1" fill="#000"/><text class="bl" x="1744" y="672">23.87 M</text>
<g clip-path="url(#cma)">
<rect x="1734" y="761" width="48" height="23" fill="#2962ff"/><text class="bl" x="1744" y="777.5">−0.5</text>
<rect x="1734" y="784" width="48" height="23" fill="#ff9800"/><text class="ax" x="1744" y="800.5">−0.8</text>
<rect x="1734" y="807" width="48" height="23" fill="#000"/><text class="bl" x="1744" y="823.5">−1.3</text>
</g>

<!-- time axis -->
<g class="tx">
<text x="74.5" y="843">Oct</text><text x="144.8" y="843">7</text><text x="215.1" y="843">13</text><text x="285.3" y="843">17</text><text x="355.6" y="843">23</text><text x="478.6" y="843">Nov</text><text x="548.9" y="843">7</text><text x="619.2" y="843">13</text><text x="689.5" y="843">19</text><text x="812.4" y="843">Dec</text><text x="882.7" y="843">5</text><text x="953" y="843">11</text><text x="1023.3" y="843">17</text><text x="1093.6" y="843">23</text><text x="1199" y="843" font-weight="bold">2026</text><text x="1269.3" y="843">8</text><text x="1339.5" y="843">14</text><text x="1409.8" y="843">21</text><text x="1480.1" y="843">27</text><text x="1550.4" y="843">Feb</text><text x="1620.7" y="843">6</text><text x="1690.9" y="843">12</text>
</g>

<!-- logo -->
<path d="M11.5,878 H24.5 V897 H18 V885 H11.5 Z" fill="#131722"/>
<circle cx="28.6" cy="882" r="3.3" fill="#131722"/>
<path d="M34,878 H41.5 L33.5,897 H26 Z" fill="#131722"/>
<text x="49" y="894" font-family="Liberation Sans, sans-serif" font-size="20" font-weight="bold" fill="#131722" textLength="120" lengthAdjust="spacingAndGlyphs">TradingView</text>
</svg>
</body></html>
